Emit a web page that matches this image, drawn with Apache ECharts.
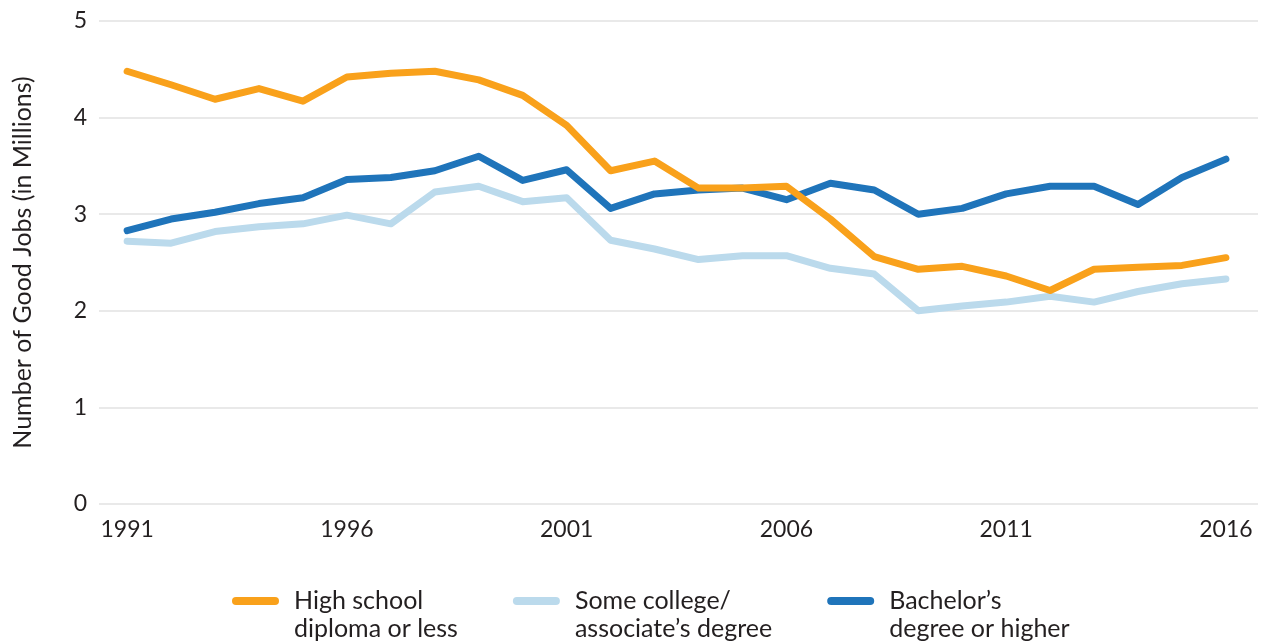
<!DOCTYPE html>
<html>
<head>
<meta charset="utf-8">
<script src="https://cdn.jsdelivr.net/npm/echarts@6/dist/echarts.min.js"></script>
<style>
html,body{margin:0;padding:0;background:#fff;}
#chart{width:1265px;height:643px;}
</style>
</head>
<body>
<div id="chart"></div>
<script>
const years = [1991,1992,1993,1994,1995,1996,1997,1998,1999,2000,2001,2002,2003,2004,2005,2006,2007,2008,2009,2010,2011,2012,2013,2014,2015,2016];
const xTickLabels = [1991,1996,2001,2006,2011,2016];
const yTickLabels = [0,1,2,3,4,5];
const seriesNames = ['High school\ndiploma or less','Some college/\nassociate\u2019s degree','Bachelor\u2019s\ndegree or higher'];
const highSchool = [4.48,4.34,4.19,4.30,4.17,4.42,4.46,4.48,4.39,4.23,3.92,3.45,3.55,3.27,3.27,3.29,2.95,2.56,2.43,2.46,2.36,2.21,2.43,2.45,2.47,2.55];
const someCollege = [2.72,2.70,2.82,2.87,2.90,2.99,2.90,3.23,3.29,3.13,3.17,2.73,2.64,2.53,2.57,2.57,2.44,2.38,2.00,2.05,2.09,2.15,2.09,2.20,2.28,2.33];
const bachelors = [2.83,2.95,3.02,3.11,3.17,3.36,3.38,3.45,3.60,3.35,3.46,3.06,3.21,3.25,3.27,3.15,3.32,3.25,3.00,3.06,3.21,3.29,3.29,3.10,3.38,3.57];
const colors = ['#F9A11B','#BBDAEC','#1F74BA'];

const FONT = 'Lato';
const TXT = '#231f20';
function pairs(vals){ return years.map((y,i)=>[y, vals[i]]); }
const allSeries = [highSchool, someCollege, bachelors];

const chart = echarts.init(document.getElementById('chart'), null, {renderer:'canvas'});
chart.setOption({
  animation:false,
  backgroundColor:'#fff',
  textStyle:{fontFamily:FONT,color:TXT},
  grid:{left:99,right:7,top:21,bottom:139,containLabel:false},
  xAxis:{
    type:'value',
    min:1990.36, max:2016.73,
    axisLine:{show:false},
    axisTick:{show:false},
    splitLine:{show:false},
    axisLabel:{customValues:xTickLabels,fontSize:23,color:TXT,fontFamily:FONT,margin:14,formatter:v=>String(v)}
  },
  yAxis:{
    type:'value',
    min:0,max:5,interval:1,
    name:'Number of Good Jobs (in Millions)',
    nameLocation:'middle',
    nameGap:64,
    nameTextStyle:{fontSize:25,color:TXT,fontFamily:FONT},
    axisLine:{show:false},
    axisTick:{show:false},
    axisLabel:{fontSize:23,color:TXT,fontFamily:FONT,margin:12,formatter:v=>String(yTickLabels[v]!==undefined?yTickLabels[v]:v)},
    splitLine:{lineStyle:{color:'#e2e2e2',width:1.5}}
  },
  legend:{
    left:227, top:554,
    itemWidth:47,itemHeight:8,itemGap:55,
    icon:'path://M4,0 L43,0 A4,4 0 0 1 43,8 L4,8 A4,4 0 0 1 4,0 Z',
    formatter:n=>'\n'+n,
    textStyle:{fontSize:25,color:TXT,fontFamily:FONT,lineHeight:28,padding:[0,0,0,10]},
    data:seriesNames
  },
  series: allSeries.map((vals,i)=>({
    name:seriesNames[i],
    type:'line',
    data:pairs(vals),
    symbol:'none',
    lineStyle:{color:colors[i],width:7,cap:'round',join:'round'},
    itemStyle:{color:colors[i]},
    z: i===1?2:(i===2?3:4)
  }))
});
</script>
</body>
</html>
